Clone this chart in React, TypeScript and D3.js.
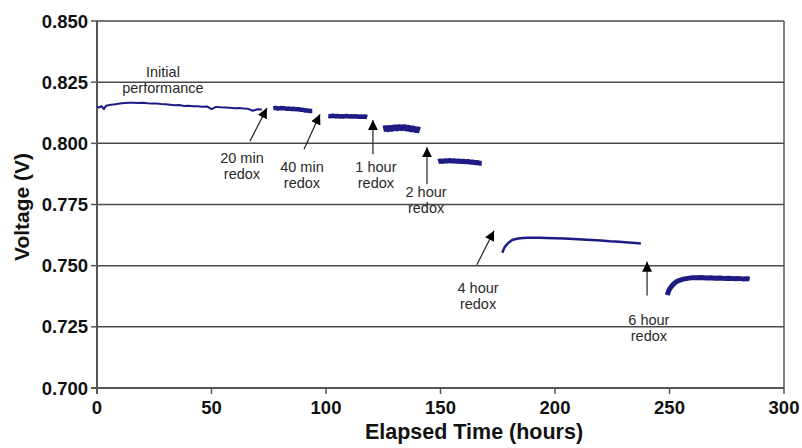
import React from 'react';
import * as d3 from 'd3';

// Voltage vs elapsed time, one run per redox interval
const initialHours = [0, 1, 2, 3, 4, 5, 6, 8, 10, 12, 14, 16, 18, 20, 22, 24, 26, 28, 30, 32, 34, 36, 38, 40, 42, 44, 46, 48, 50, 52, 54, 56, 58, 60, 62, 64, 66, 68, 70, 72];
const initialVolts = [0.8150, 0.8146, 0.8152, 0.8140, 0.8154, 0.8156, 0.8158, 0.8160, 0.8163, 0.8165, 0.8166, 0.8166, 0.8165, 0.8166, 0.8164, 0.8163, 0.8163, 0.8161, 0.8160, 0.8158, 0.8156, 0.8157, 0.8153, 0.8154, 0.8152, 0.8152, 0.8150, 0.8151, 0.8140, 0.8149, 0.8147, 0.8146, 0.8145, 0.8143, 0.8144, 0.8142, 0.8141, 0.8133, 0.8139, 0.8138];

const min20Hours = [77, 78, 79, 80, 81, 82, 83, 84, 85, 86, 87, 88, 89, 90, 91, 92, 93, 94];
const min20Volts = [0.8143, 0.8145, 0.8142, 0.8144, 0.8143, 0.8143, 0.8141, 0.8142, 0.8140, 0.8141, 0.8139, 0.8139, 0.8137, 0.8137, 0.8134, 0.8134, 0.8132, 0.8132];

const min40Hours = [101, 102, 103, 104, 105, 106, 107, 108, 109, 110, 111, 112, 113, 114, 115, 116, 117, 118];
const min40Volts = [0.8112, 0.8111, 0.8113, 0.8111, 0.8112, 0.8110, 0.8111, 0.8110, 0.8112, 0.8110, 0.8111, 0.8110, 0.8111, 0.8109, 0.8110, 0.8109, 0.8110, 0.8107];

const hour1Hours = [125, 126, 127, 128, 129, 130, 131, 132, 133, 134, 135, 136, 137, 138, 139, 140, 141];
const hour1Volts = [0.8059, 0.8061, 0.8059, 0.8062, 0.8061, 0.8064, 0.8062, 0.8065, 0.8063, 0.8065, 0.8062, 0.8063, 0.8059, 0.8060, 0.8056, 0.8056, 0.8053];

const hour2Hours = [149, 150, 151, 152, 153, 154, 155, 156, 157, 158, 159, 160, 161, 162, 163, 164, 165, 166, 167, 168];
const hour2Volts = [0.7925, 0.7928, 0.7926, 0.7929, 0.7928, 0.7930, 0.7928, 0.7929, 0.7927, 0.7928, 0.7926, 0.7927, 0.7925, 0.7926, 0.7923, 0.7924, 0.7921, 0.7922, 0.7919, 0.7919];

const hour4Hours = [177, 177.5, 178, 179, 180, 181, 182, 184, 186, 188, 190, 193, 196, 200, 204, 208, 212, 216, 220, 224, 228, 232, 235, 237.5];
const hour4Volts = [0.7553, 0.7565, 0.7575, 0.7587, 0.7596, 0.7603, 0.7607, 0.7611, 0.7613, 0.7614, 0.7614, 0.7614, 0.7613, 0.7612, 0.7611, 0.7609, 0.7607, 0.7605, 0.7603, 0.7600, 0.7598, 0.7595, 0.7593, 0.7591];

const hour6Hours = [249, 249.5, 250, 251, 252, 253, 254, 256, 258, 260, 262, 264, 266, 268, 270, 272, 274, 276, 278, 280, 282, 284, 285];
const hour6Volts = [0.7380, 0.7393, 0.7404, 0.7417, 0.7427, 0.7434, 0.7439, 0.7445, 0.7448, 0.7451, 0.7451, 0.7452, 0.7450, 0.7451, 0.7449, 0.7450, 0.7448, 0.7449, 0.7447, 0.7448, 0.7446, 0.7447, 0.7445];

const xTicks = [0, 50, 100, 150, 200, 250, 300];
const yTicks = [0.700, 0.725, 0.750, 0.775, 0.800, 0.825, 0.850];

// annotations
const noteLines = [['Initial', 'performance'], ['20 min', 'redox'], ['40 min', 'redox'], ['1 hour', 'redox'], ['2 hour', 'redox'], ['4 hour', 'redox'], ['6 hour', 'redox']];
const noteHours = [28.8, 63.3, 89.5, 121.8, 143.7, 166.4, 241];
const noteVolts = [0.8270, 0.7920, 0.7883, 0.7883, 0.7781, 0.7390, 0.7258];
const arrowTailHours = [66.8, 90.4, 120.5, 144.1, 165.9, 240.2];
const arrowTailVolts = [0.8009, 0.7976, 0.7955, 0.7833, 0.7504, 0.7378];
const arrowTipHours = [74.2, 97.4, 120.5, 144.1, 173.4, 240.2];
const arrowTipVolts = [0.8144, 0.8119, 0.8095, 0.7984, 0.7643, 0.7516];

const W = 802;
const H = 448;
const margin = { top: 21, right: 18, bottom: 60, left: 97 };
const FONT = 'Liberation Sans, Arial, Helvetica, sans-serif';
const LINE = '#1c1c84';

export default function App() {
  const x = d3.scaleLinear().domain([0, 300]).range([margin.left, W - margin.right]);
  const y = d3.scaleLinear().domain([0.7, 0.85]).range([H - margin.bottom, margin.top]);

  const segments = [
    { t: initialHours, v: initialVolts, w: 2 },
    { t: min20Hours, v: min20Volts, w: 4.5 },
    { t: min40Hours, v: min40Volts, w: 4.5 },
    { t: hour1Hours, v: hour1Volts, w: 6.5 },
    { t: hour2Hours, v: hour2Volts, w: 5 },
    { t: hour4Hours, v: hour4Volts, w: 2.5 },
    { t: hour6Hours, v: hour6Volts, w: 5 },
  ];

  const line = d3.line<[number, number]>()
    .x(d => x(d[0]))
    .y(d => y(d[1]));

  const [x0, x1] = x.range();
  const [yb, yt] = y.range();

  return (
    <svg width={W} height={H} style={{ position: 'absolute', left: 0, top: 0, background: '#fff' }} fontFamily={FONT}>
      <defs>
        <marker id="head" viewBox="0 0 10 10" refX="10" refY="5" markerWidth="10" markerHeight="13" markerUnits="userSpaceOnUse" orient="auto">
          <path d="M0,0 L10,5 L0,10 Z" fill="#000" />
        </marker>
      </defs>

      {/* gridlines */}
      {yTicks.map(t => (
        <line key={t} x1={x0} x2={x1} y1={y(t)} y2={y(t)} stroke="#4a4a4a" strokeWidth={1.5} />
      ))}
      <line x1={x1} x2={x1} y1={yt} y2={yb} stroke="#555" strokeWidth={1.5} />

      {/* axes */}
      <line x1={x0} x2={x0} y1={yt} y2={yb + 6} stroke="#555" strokeWidth={2} />
      <line x1={x0 - 6} x2={x1} y1={yb} y2={yb} stroke="#555" strokeWidth={2} />
      {yTicks.map(t => (
        <g key={t}>
          <line x1={x0 - 6} x2={x0} y1={y(t)} y2={y(t)} stroke="#555" strokeWidth={1.5} />
          <text x={x0 - 9} y={y(t)} dy="0.36em" textAnchor="end" fontSize={18.5} fontWeight="bold" fill="#111">
            {t.toFixed(3)}
          </text>
        </g>
      ))}
      {xTicks.map(t => (
        <g key={t}>
          <line x1={x(t)} x2={x(t)} y1={yb} y2={yb + 6} stroke="#555" strokeWidth={1.5} />
          <text x={x(t)} y={yb + 26} textAnchor="middle" fontSize={18.5} fontWeight="bold" fill="#111">
            {t}
          </text>
        </g>
      ))}

      <text x={474} y={439} textAnchor="middle" fontSize={21.5} fontWeight="bold" fill="#111">
        Elapsed Time (hours)
      </text>
      <text transform={`translate(29, 207) rotate(-90)`} textAnchor="middle" fontSize={21} fontWeight="bold" fill="#111">
        Voltage (V)
      </text>

      {/* data */}
      {segments.map((s, i) => (
        <path
          key={i}
          d={line(s.t.map((t, j) => [t, s.v[j]] as [number, number])) || ''}
          fill="none"
          stroke={LINE}
          strokeWidth={s.w}
          strokeLinejoin="round"
        />
      ))}

      {/* arrows */}
      {arrowTailHours.map((t, i) => (
        <line
          key={i}
          x1={x(t)}
          y1={y(arrowTailVolts[i])}
          x2={x(arrowTipHours[i])}
          y2={y(arrowTipVolts[i])}
          stroke="#222"
          strokeWidth={1.2}
          markerEnd="url(#head)"
        />
      ))}

      {/* notes */}
      {noteLines.map((lines, i) => (
        <text key={i} x={x(noteHours[i])} y={y(noteVolts[i])} textAnchor="middle" fontSize={14.5} fill="#2a2a2a">
          {lines.map((l, j) => (
            <tspan key={j} x={x(noteHours[i])} dy={j === 0 ? 0 : 16}>{l}</tspan>
          ))}
        </text>
      ))}
    </svg>
  );
}
